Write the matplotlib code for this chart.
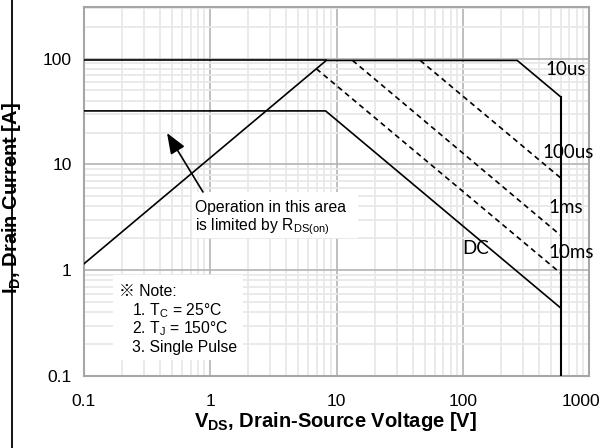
import numpy as np
import matplotlib.pyplot as plt
from matplotlib.lines import Line2D
from matplotlib.patches import Rectangle
import matplotlib.transforms as mtransforms

plt.rcParams['font.family'] = ['Liberation Sans', 'Noto Sans CJK JP', 'DejaVu Sans']
plt.rcParams['mathtext.fontset'] = 'custom'
plt.rcParams['mathtext.rm'] = 'Liberation Sans'
plt.rcParams['mathtext.it'] = 'Liberation Sans'
plt.rcParams['mathtext.bf'] = 'Liberation Sans:bold'

# outline: Rds(on) limit, pulse current limit, 10us, BVdss
outline_v = [0.1, 8.3, 270, 600, 600]
outline_i = [1.15, 96, 96, 43.2, 0.1]
# current limit line starting at the left edge
idm_v = [0.1, 8.3]
idm_i = [96, 96]
# DC
dc_v = [0.1, 8.2, 600, 600]
dc_i = [32, 32, 0.437, 0.1]
# pulse lines (dashed)
us100_v = [46, 600]
us100_i = [96, 7.4]
ms1_v = [13.4, 600]
ms1_i = [96, 2.12]
ms10_v = [6.93, 600]
ms10_i = [80, 0.93]

x_ticks = [0.1, 1, 10, 100, 1000]
x_labels = ["0.1", "1", "10", "100", "1000"]
y_ticks = [0.1, 1, 10, 100]
y_labels = ["0.1", "1", "10", "100"]

fig = plt.figure(figsize=(6.10, 4.48), dpi=100)
ax = fig.add_axes([84 / 610, 1 - 376 / 448, 505 / 610, 369 / 448])
ax.set_xscale("log")
ax.set_yscale("log")
ax.set_xlim(0.1, 1000)
ax.set_ylim(0.1, 307)

ax.grid(True, which="minor", color="#e8e8e8", linewidth=1.3, zorder=0)
ax.grid(True, which="major", color="#b4b4b4", linewidth=1.2, zorder=0)
ax.set_axisbelow(True)

ax.set_xticks(x_ticks)
ax.set_xticklabels(x_labels)
ax.set_yticks(y_ticks)
ax.set_yticklabels(y_labels)
ax.tick_params(which="both", length=0, labelsize=12.5)
ax.tick_params(axis="x", pad=13)
ax.tick_params(axis="y", pad=8.8)
# the 1000 label sits a bit left in the reference
lab = ax.get_xticklabels()[-1]
lab.set_transform(lab.get_transform() + mtransforms.ScaledTranslation(-8 / 100, 0, fig.dpi_scale_trans))

for s in ax.spines.values():
    s.set_color("#a6a6a6")
    s.set_linewidth(1.5)

lw = 1.2
ax.plot(outline_v, outline_i, color="black", lw=lw, zorder=3)
ax.plot(idm_v, idm_i, color="black", lw=lw, zorder=3)
ax.plot(dc_v, dc_i, color="black", lw=lw, zorder=3)
for v, i in [(us100_v, us100_i), (ms1_v, ms1_i), (ms10_v, ms10_i)]:
    ax.plot(v, i, color="black", lw=lw, dashes=(3.2, 2.4), zorder=3)
ax.plot([600, 600], [0.1, 43.2], color="black", lw=1.5, zorder=4)

# curve labels
for txt, x, y in [("10us", 0.9129, 0.8293), ("100us", 0.9069, 0.607),
                  ("1ms", 0.9188, 0.4553), ("10ms", 0.9188, 0.336),
                  ("DC", 0.7485, 0.3442)]:
    ax.text(x, y, txt, transform=ax.transAxes, fontsize=13.5, family="Lato",
            ha="left", va="center", zorder=5)

# Rds(on) note box
ax.add_patch(Rectangle((0.2139, 0.374), 0.3287, 0.1246, transform=ax.transAxes,
                       facecolor="white", edgecolor="none", zorder=2))
ax.text(0.2198, 0.4453, "Operation in this area", transform=ax.transAxes,
        fontsize=11.3, va="baseline", zorder=5)
ax.text(0.2198, 0.3938, r"is limited by R$_{\mathrm{DS(on)}}$", transform=ax.transAxes,
        fontsize=11.3, va="baseline", zorder=5)
ax.annotate("", xy=(0.1644, 0.6585), xytext=(0.2356, 0.4986),
            xycoords="axes fraction", textcoords="axes fraction",
            arrowprops=dict(arrowstyle="-|>,head_length=0.9,head_width=0.35",
                            color="black", lw=1.2, mutation_scale=14,
                            shrinkA=0, shrinkB=0), zorder=5)

# conditions box
ax.add_patch(Rectangle((0.0574, 0.0434), 0.2575, 0.2303, transform=ax.transAxes,
                       facecolor="white", edgecolor="none", zorder=2))
ax.text(0.0693, 0.2168, "※ Note:", transform=ax.transAxes, fontsize=11.3,
        va="baseline", zorder=5)
ax.text(0.0945, 0.1653, r"1. T$_{\mathrm{C}}$ = 25°C", transform=ax.transAxes,
        fontsize=11.3, va="baseline", zorder=5)
ax.text(0.0945, 0.1157, r"2. T$_{\mathrm{J}}$ = 150°C", transform=ax.transAxes,
        fontsize=11.3, va="baseline", zorder=5)
ax.text(0.0945, 0.0659, "3. Single Pulse", transform=ax.transAxes,
        fontsize=11.3, va="baseline", zorder=5)

ax.set_xlabel(r"$\mathbf{V_{DS}}$, Drain-Source Voltage [V]", fontsize=14.5, fontweight="bold")
ax.set_ylabel(r"$\mathbf{I_{D}}$, Drain Current [A]", fontsize=14.5, fontweight="bold")
ax.xaxis.set_label_coords(0.498, -0.123)
ax.xaxis.label.set_va("center")
ax.yaxis.set_label_coords(-0.1426, 0.4824)
ax.yaxis.label.set_va("center")

fig.add_artist(Line2D([12 / 610, 12 / 610], [0, 1], color="black", lw=1.3,
                      transform=fig.transFigure, zorder=0))

fig.savefig("out.png", dpi=100)
